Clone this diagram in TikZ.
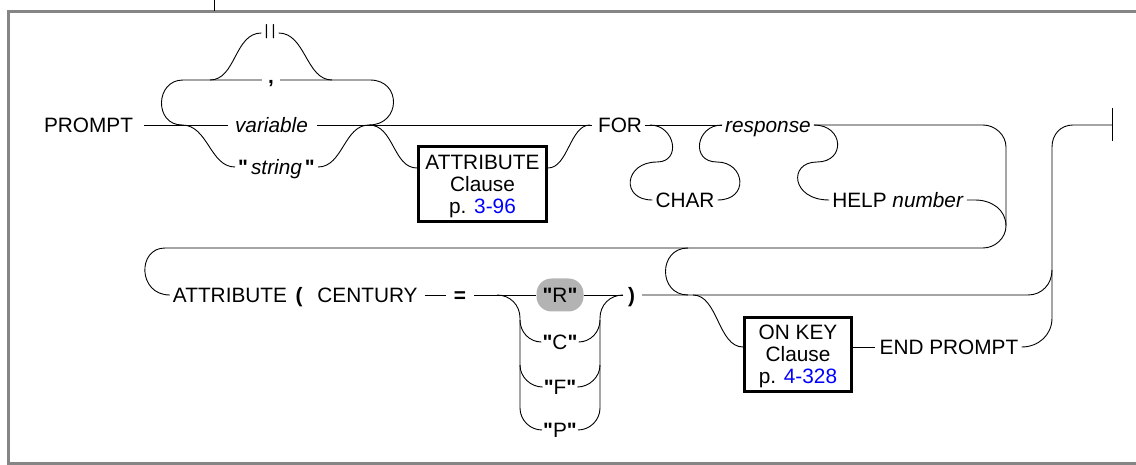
\documentclass[tikz,border=0pt]{standalone}
\usepackage{fontspec}
\setmainfont{Liberation Sans}[Ligatures=TeXOff]
\definecolor{framegray}{HTML}{858585}
\definecolor{pillgray}{HTML}{B3B3B3}
\definecolor{linkblue}{HTML}{0000FF}
\newcommand\dquo{\textbf{\char34}}
\begin{document}
\begin{tikzpicture}[x=1pt,y=-1pt,
  rail/.style={line width=0.9pt},
  lbl/.style={inner xsep=3pt, inner ysep=0pt, text height=16pt, text depth=1.3pt, font=\fontsize{20.8}{22}\selectfont},
  clausebox/.style={draw, line width=3pt, inner sep=0pt, align=center, text depth=0pt, font=\fontsize{20.8}{22}\selectfont},
  pill/.style={fill=pillgray, rounded corners=15pt, minimum width=47pt, minimum height=33pt},
  bars/.style={inner xsep=3pt, inner ysep=0pt, font=\fontsize{15}{16}\selectfont},
  frameline/.style={draw=framegray, line width=3pt}]

\useasboundingbox (0,0) rectangle (1136,465);

% frame and top tick
\coordinate (fTR) at (1136,11.3);
\coordinate (fTL) at (8.7,11.3);
\coordinate (fBL) at (8.7,463.5);
\coordinate (fBR) at (1136,463.5);
\draw[frameline] (fTR) -- (fTL) -- (fBL) -- (fBR);
\coordinate (tick0) at (214,0);
\coordinate (tick1) at (214,11);
\draw[line width=1pt] (tick0) -- (tick1);

% ---- nodes, row 1
\node[lbl] (prompt) at (88.5,125) {PROMPT};
\node[bars] (dbar) at (270,32) {|\kern3pt|};
\node[lbl, inner xsep=6pt] (comma) at (271,76) {\textbf{,}};
\node[lbl] (variable) at (271.5,125) {\textit{variable}};
\node[lbl] (string) at (276.5,167) {\dquo\kern3pt\textit{string}\kern3pt\dquo};
\node[clausebox, minimum width=128pt, minimum height=75pt] (attrbox) at (482.5,184) {ATTRIBUTE\\Clause\\p. \textcolor{linkblue}{3-96}};
\node[lbl] (for) at (620,125) {FOR};
\node[lbl] (char) at (685,200) {CHAR};
\node[lbl] (response) at (768,125) {\textit{response}};
\node[lbl] (help) at (898,200) {HELP \textit{number}};

% ---- nodes, row 2
\node[lbl] (attr2) at (230,295) {ATTRIBUTE};
\node[lbl] (lpar) at (299,295) {\textbf{(}};
\node[lbl] (century) at (367.5,295) {CENTURY};
\node[lbl] (eq) at (460,295) {\textbf{=}};
\node[lbl, pill] (R) at (560,295) {\dquo R\dquo};
\node[lbl, inner xsep=1pt] (C) at (560,342) {\dquo C\dquo};
\node[lbl, inner xsep=1pt] (F) at (560,387) {\dquo F\dquo};
\node[lbl, inner xsep=1pt] (P) at (560,430) {\dquo P\dquo};
\node[lbl] (rpar) at (631.5,295) {\textbf{)}};
\node[clausebox, minimum width=107pt, minimum height=74pt] (onkey) at (798,354.5) {ON KEY\\Clause\\p. \textcolor{linkblue}{4-328}};
\node[lbl] (endp) at (949,347) {END PROMPT};

% ---- junction coordinates
\coordinate (jl) at (182,125);
\coordinate (jr) at (369,125);
\coordinate (loopL) at (183,80);
\coordinate (loopR) at (370,80);
\coordinate (dL) at (210,80);
\coordinate (dR) at (332,80);
\coordinate (jf) at (590,125);
\coordinate (k1) at (650,125);
\coordinate (kc) at (657,162);
\coordinate (kr) at (717,162);
\coordinate (hc) at (817,162);
\coordinate (tr1) at (983,125);
\coordinate (tr2) at (1006,147);
\coordinate (tr3) at (1006,226);
\coordinate (tr4) at (983,248);
\coordinate (ret) at (165,248);
\coordinate (hj) at (975,200);
\coordinate (byA) at (688,248);
\coordinate (byB) at (688,295);
\coordinate (okA) at (693,295);
\coordinate (r2e) at (1028,295);
\coordinate (vA) at (1052,270);
\coordinate (vB) at (1052,318);
\coordinate (vT) at (1052,147);
\coordinate (eA) at (1073,125);
\coordinate (endbar) at (1112,125);
\coordinate (endbarT) at (1112,108);
\coordinate (endbarB) at (1112,141);
\coordinate (cL) at (497,295);
\coordinate (cR) at (623,295);
\coordinate (lvT) at (520,318);
\coordinate (lvB) at (520,408);
\coordinate (lvC) at (520,320);
\coordinate (lvF) at (520,365);
\coordinate (rvT) at (600,318);
\coordinate (rvB) at (600,408);
\coordinate (rvC) at (600,320);
\coordinate (rvF) at (600,365);

% ---- row 1 rails
\draw[rail] ([xshift=8pt]prompt.east) -- ([xshift=-4pt]variable.west);
\draw[rail] ([xshift=6pt]variable.east) -- ([xshift=-3pt]for.west);
\draw[rail] (jl) .. controls +(-28,0) and +(-28,0) .. (loopL) -- (comma.west |- loopL);
\draw[rail] (comma.east |- loopR) -- (loopR) .. controls +(32,0) and +(32,0) .. (jr);
\draw[rail] (dL) .. controls +(26,0) and +(-27,0) .. ([yshift=-1pt]dbar.west);
\draw[rail] ([yshift=-1pt]dbar.east) .. controls +(27,0) and +(-26,0) .. (dR);
\draw[rail] (jl) .. controls +(26,0) and +(-25,0) .. (string.west);
\draw[rail] (string.east) .. controls +(25,0) and +(-25,0) .. (jr);
\draw[rail] (jr) .. controls +(25,0) and +(-24,0) .. ([yshift=16pt]attrbox.west);
\draw[rail] ([yshift=16pt]attrbox.east) .. controls +(20,0) and +(-20,0) .. (jf);

\draw[rail] (for.east) -- (response.west);
\draw[rail] (k1) .. controls +(25,0) and +(25,0) .. (kc) .. controls +(-33,0) and +(-32,0) .. (char.west);
\draw[rail] (char.east) .. controls +(32,0) and +(28,0) .. (kr) .. controls +(-27,0) and +(-26,0) .. (response.west);
\draw[rail] (response.east) .. controls +(30,0) and +(29,0) .. (hc) .. controls +(-29,0) and +(-38,0) .. (help.west);
\draw[rail] (help.east) -- (hj) .. controls +(17,0) and +(0,-16) .. (tr3);
\draw[rail] (response.east) -- (tr1) .. controls +(12,0) and +(0,-12) .. (tr2) -- (tr3)
  .. controls +(0,12) and +(12,0) .. (tr4) -- (ret) .. controls +(-28,0) and +(-32,0) .. (attr2.west);

% ---- row 2 rails
\draw[rail] ([xshift=4pt]century.east) -- ([xshift=-5pt]eq.west);
\draw[rail] ([xshift=5pt]eq.east) -- (R.west);
\draw[rail] (R.east) -- ([xshift=-2pt]rpar.west);
\draw[rail] ([xshift=4pt]rpar.east) -- (r2e) .. controls +(14,0) and +(0,14) .. (vA);

\draw[rail] (cL) .. controls +(13,0) and +(0,-13) .. (lvT) -- (lvB) .. controls +(0,12) and +(-12,0) .. (P.west);
\draw[rail] (lvC) .. controls +(0,12) and +(-12,0) .. (C.west);
\draw[rail] (lvF) .. controls +(0,12) and +(-12,0) .. (F.west);
\draw[rail] (C.east) .. controls +(12,0) and +(0,12) .. (rvC);
\draw[rail] (F.east) .. controls +(12,0) and +(0,12) .. (rvF);
\draw[rail] (P.east) .. controls +(12,0) and +(0,12) .. (rvB) -- (rvT) .. controls +(0,-13) and +(-13,0) .. (cR);

\draw[rail] (byA) .. controls +(-30,0) and +(-30,0) .. (byB);
\draw[rail] (okA) .. controls +(25,0) and +(-25,0) .. ([yshift=7.5pt]onkey.west);
\draw[rail] ([yshift=7.5pt]onkey.east) -- ([xshift=-1pt]endp.west);
\draw[rail] (endp.east) .. controls +(17,0) and +(0,17) .. (vB) -- (vT) .. controls +(0,-13) and +(-12,0) .. (eA) -- (endbar);
\draw[rail] (endbarT) -- (endbarB);
\end{tikzpicture}
\end{document}
